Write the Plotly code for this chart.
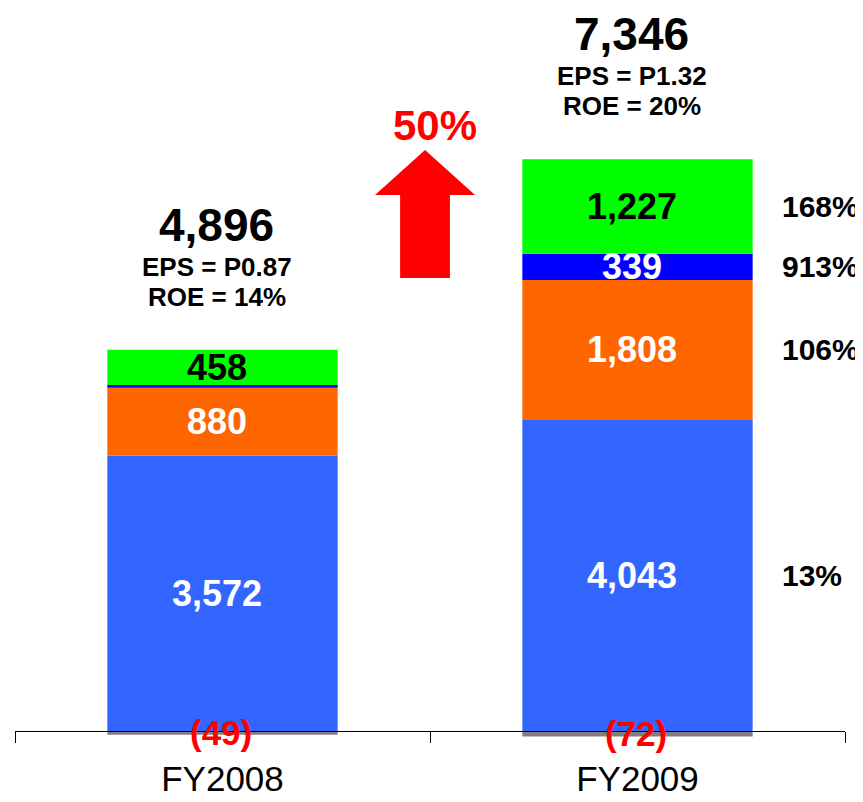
import plotly.graph_objects as go
import numpy as np

# ---------------- data ----------------
years = ["FY2008", "FY2009"]
seg_a = [3572, 4043]          # blue
seg_b = [880, 1808]           # orange
seg_c = [35, 339]             # dark blue
seg_d = [458, 1227]           # green
other = [-49, -72]            # grey (negative)
seg_a_labels = ["3,572", "4,043"]
seg_b_labels = ["880", "1,808"]
seg_c_labels = ["", "339"]
seg_d_labels = ["458", "1,227"]
other_labels = ["(49)", "(72)"]
totals = ["4,896", "7,346"]
eps = ["EPS = P0.87", "EPS = P1.32"]
roe = ["ROE = 14%", "ROE = 20%"]
growth = ["13%", "106%", "913%", "168%"]   # FY2009 growth for blue, orange, dark blue, green
total_growth = "50%"

# ---------------- styling ----------------
FONT = "Liberation Sans, Arial, sans-serif"
OFF = 8                # default page body margin
W, H = 863 - OFF, 802 - OFF
zero_px = 731 - OFF    # pixel row of the zero line inside the figure
k = 0.0771             # pixels per unit
ymax = zero_px / k
ymin = -(H - zero_px) / k

segments = [
    (seg_a, seg_a_labels, "#3366FF", "white"),
    (seg_b, seg_b_labels, "#FF6600", "white"),
    (seg_c, seg_c_labels, "#0000FF", "white"),
    (seg_d, seg_d_labels, "#00FF00", "black"),
]

fig = go.Figure()
for vals, labs, col, tcol in segments:
    fig.add_trace(go.Bar(x=years, y=vals, marker=dict(color=col, line=dict(width=0)),
                         width=0.555, showlegend=False, hoverinfo="skip"))
fig.add_trace(go.Bar(x=years, y=other, marker=dict(color="#808080", line=dict(width=0)),
                     width=0.555, showlegend=False, hoverinfo="skip"))

annotations = []
pos_stack = np.zeros(len(years))
mids_fy09 = []
for vals, labs, col, tcol in segments:
    v = np.array(vals, dtype=float)
    mids = pos_stack + v / 2
    for i, yr in enumerate(years):
        if labs[i]:
            annotations.append(dict(x=i, y=mids[i], text="<b>%s</b>" % labs[i], showarrow=False,
                                    font=dict(family=FONT, size=36, color=tcol),
                                    xanchor="center", yanchor="middle", xshift=-6))
    mids_fy09.append(mids[1])
    pos_stack = pos_stack + v
tops = pos_stack

for i, yr in enumerate(years):
    annotations.append(dict(x=i, y=other[i] / 2, text="<b>%s</b>" % other_labels[i], showarrow=False,
                            font=dict(family=FONT, size=35, color="#FF0000"),
                            xanchor="center", yanchor="middle", xshift=-2))
    annotations.append(dict(x=i, y=tops[i], text="<b>%s</b>" % totals[i], showarrow=False,
                            font=dict(family=FONT, size=46, color="black"),
                            xanchor="center", yanchor="middle", yshift=125, xshift=-6))
    annotations.append(dict(x=i, y=tops[i], text="<b>%s</b>" % eps[i], showarrow=False,
                            font=dict(family=FONT, size=26, color="black"),
                            xanchor="center", yanchor="middle", yshift=83, xshift=-6))
    annotations.append(dict(x=i, y=tops[i], text="<b>%s</b>" % roe[i], showarrow=False,
                            font=dict(family=FONT, size=26, color="black"),
                            xanchor="center", yanchor="middle", yshift=53, xshift=-6))

for g, m in zip(growth, mids_fy09):
    annotations.append(dict(x=1.343, y=m, text="<b>%s</b>" % g, showarrow=False,
                            font=dict(family=FONT, size=30, color="black"),
                            xanchor="left", yanchor="middle"))

# total growth arrow
ax = 0.488
y_apex = (731 - 150) / k
y_head = (731 - 195) / k
y_base = (731 - 278) / k
hw, sw = 0.1205, 0.060
path = ("M {a},{ya} L {r1},{yh} L {r2},{yh} L {r2},{yb} L {l2},{yb} L {l2},{yh} L {l1},{yh} Z"
        .format(a=ax, ya=y_apex, r1=ax + hw, r2=ax + sw, l2=ax - sw, l1=ax - hw,
                yh=y_head, yb=y_base))
shapes = [dict(type="path", path=path, xref="x", yref="y",
               fillcolor="#FF0000", line=dict(width=0), layer="above")]
annotations.append(dict(x=0.512, y=(731 - 125) / k, text="<b>%s</b>" % total_growth,
                        showarrow=False, font=dict(family=FONT, size=42, color="#FF0000"),
                        xanchor="center", yanchor="middle"))

fig.update_layout(
    width=W, height=H,
    margin=dict(l=15 - OFF, r=863 - 845, t=0, b=0),
    paper_bgcolor="white", plot_bgcolor="white",
    barmode="relative",
    annotations=annotations,
    shapes=shapes,
    xaxis=dict(type="category", range=[-0.5, 1.5], showgrid=False, zeroline=False,
               showline=True, linecolor="black", linewidth=1,
               ticks="outside", tickson="boundaries", ticklen=11, tickcolor="black", tickwidth=1,
               tickfont=dict(family=FONT, size=35, color="black"),
               ticklabelstandoff=17,
               anchor="free", position=(H - zero_px) / H),
    yaxis=dict(range=[ymin, ymax], visible=False, showgrid=False, zeroline=False),
)

fig.write_html("out.html")
